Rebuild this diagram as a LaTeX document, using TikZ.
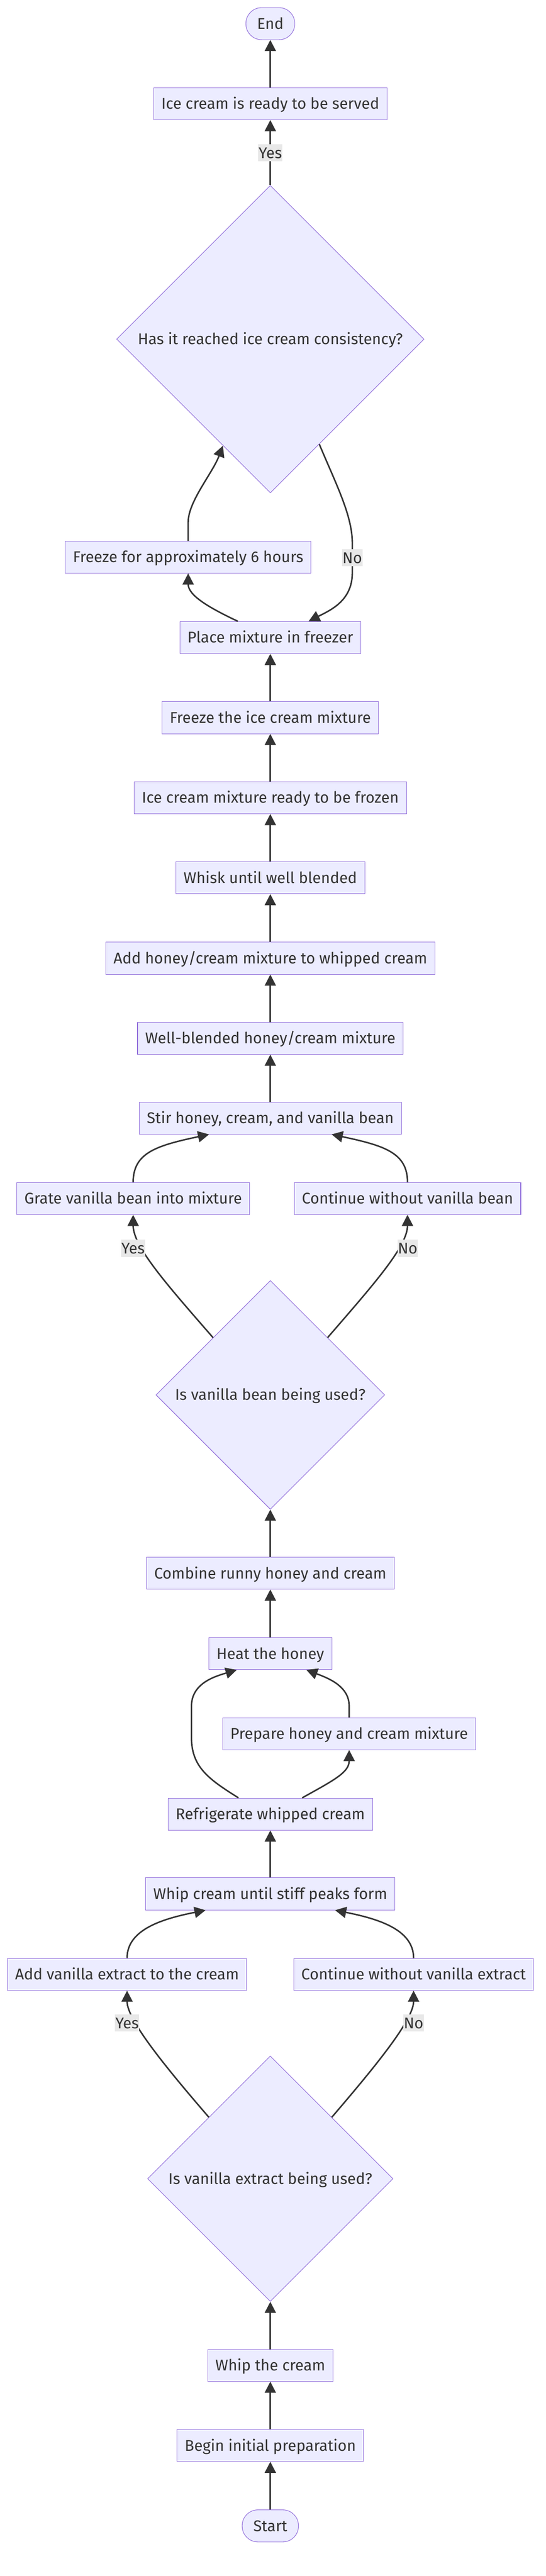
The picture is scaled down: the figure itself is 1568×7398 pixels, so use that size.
\documentclass[tikz,border=0pt]{standalone}
\usepackage{fontspec}
\setmainfont{Fira Sans}
\usetikzlibrary{arrows.meta,shapes.geometric}
\definecolor{boxfill}{HTML}{ECECFF}
\definecolor{boxline}{HTML}{9370DB}
\definecolor{ink}{HTML}{333333}
\definecolor{lblfill}{HTML}{E8E8E8}
\tikzset{
  box/.style={draw=boxline,fill=boxfill,line width=1.6pt,text=ink,minimum height=92pt,inner xsep=22pt,inner ysep=0pt,text height=31pt,text depth=0pt,font=\fontsize{44.6}{54}\selectfont},
  term/.style={box,rounded corners=45pt,inner xsep=32pt},
  choice/.style={box,diamond,inner sep=0pt},
  flow/.style={draw=ink,line width=4.2pt,-{Triangle[length=32pt,width=32pt]}},
  lbl/.style={fill=lblfill,text=ink,inner xsep=1pt,inner ysep=0pt,minimum height=49pt,text height=31pt,text depth=0pt,font=\fontsize{44.6}{54}\selectfont}
}

\begin{document}
\begin{tikzpicture}[x=1pt,y=-1pt]
       \pgfmathsetmacro{\cx}{776.5};
       \useasboundingbox(0,0)rectangle(1568,7398);
       \node[term](finish)at(\cx,68){End};
       \node[box](served)at(\cx,298){Ice cream is ready to be served};
       \node[choice,minimum width=883pt,minimum height=883pt](firm)at(\cx,974){Has it reached ice cream consistency?};
       \node[box](sixh)at(540.5,1600){Freeze for approximately 6 hours};
       \node[box](place)at(\cx,1831){Place mixture in freezer};
       \node[box](freeze)at(\cx,2061){Freeze the ice cream mixture};
       \node[box](frozen)at(\cx,2291){Ice cream mixture ready to be frozen};
       \node[box](whisk)at(\cx,2521){Whisk until well blended};
       \node[box](addmix)at(\cx,2752){Add honey/cream mixture to whipped cream};
       \node[box](blended)at(\cx,2982){Well-blended honey/cream mixture};
       \node[box](stir)at(\cx,3211){Stir honey, cream, and vanilla bean};
       \node[box](grate)at(382.5,3442){Grate vanilla bean into mixture};
       \node[box](nobean)at(1170.5,3442){Continue without vanilla bean};
       \node[choice,minimum width=657pt,minimum height=657pt](bean)at(\cx,4006){Is vanilla bean being used?};
       \node[box](combine)at(\cx,4518){Combine runny honey and cream};
       \node[box](heat)at(\cx,4749){Heat the honey};
       \node[box](prepare)at(1003,4979){Prepare honey and cream mixture};
       \node[box](chill)at(\cx,5210){Refrigerate whipped cream};
       \node[box](stiff)at(\cx,5439){Whip cream until stiff peaks form};
       \node[box](extract)at(365,5670){Add vanilla extract to the cream};
       \node[box](noextract)at(1188,5670){Continue without vanilla extract};
       \node[choice,minimum width=705pt,minimum height=705pt](vanilla)at(\cx,6257){Is vanilla extract being used?};
       \node[box](whip)at(\cx,6793){Whip the cream};
       \node[box](begin)at(\cx,7023){Begin initial preparation};
       \node[term](start)at(\cx,7254){Start};
       \draw[flow](start)--(begin);
       \draw[flow](begin)--(whip);
       \draw[flow](whip)--(vanilla);
       \draw[flow](vanilla.north west)..controls(470,5930)and(365,5800)..(extract.south);
       \draw[flow](vanilla.north east)..controls(1082,5930)and(1188,5800)..(noextract.south);
       \draw[flow](extract.north)..controls(365,5540)and(470,5510)..([xshift=-186pt]stiff.south);
       \draw[flow](noextract.north)..controls(1188,5540)and(1083,5510)..([xshift=186pt]stiff.south);
       \draw[flow](stiff)--(chill);
       \draw[flow]([xshift=-91.5pt]chill.north)..controls(600,5110)and(550,5075)..(550,4990)--(550,4900)..controls(550,4835)and(615,4815)..([xshift=-96.5pt]heat.south);
       \draw[flow]([xshift=91.5pt]chill.north)..controls(960,5112)and(1003,5090)..(prepare.south);
       \draw[flow](prepare.north)--(1003,4900)..controls(1003,4845)and(950,4822)..([xshift=103.5pt]heat.south);
       \draw[flow](heat)--(combine);
       \draw[flow](combine)--(bean);
       \draw[flow](bean.north west)..controls(480,3690)and(382.5,3580)..(grate.south);
       \draw[flow](bean.north east)..controls(1072,3690)and(1170.5,3580)..(nobean.south);
       \draw[flow](grate.north)..controls(382.5,3310)and(450,3290)..([xshift=-176pt]stir.south);
       \draw[flow](nobean.north)..controls(1170.5,3310)and(1103,3290)..([xshift=176pt]stir.south);
       \draw[flow](stir)--(blended);
       \draw[flow](blended)--(addmix);
       \draw[flow](addmix)--(whisk);
       \draw[flow](whisk)--(frozen);
       \draw[flow](frozen)--(freeze);
       \draw[flow](freeze)--(place);
       \draw[flow]([xshift=-93.5pt]place.north)..controls(600,1745)and(540.5,1710)..(sixh.south);
       \draw[flow](sixh.north)--(540.5,1500)..controls(540.5,1440)and(610,1360)..(firm.246);
       \draw[flow](firm.295)..controls(965,1390)and(1012,1480)..(1012,1560)--(1012,1645)..controls(1012,1725)and(950,1752)..([xshift=110pt]place.north);
       \draw[flow](firm)--(served);
       \draw[flow](served)--(finish);
       \node[lbl](yesa)at(\cx,439){Yes};
       \node[lbl](noa)at(1012,1602){No};
       \node[lbl](yesb)at(382,3585){Yes};
       \node[lbl](nob)at(1171,3585){No};
       \node[lbl](yesc)at(365,5810){Yes};
       \node[lbl](noc)at(1188,5810){No};
      \end{tikzpicture}
\end{document}
